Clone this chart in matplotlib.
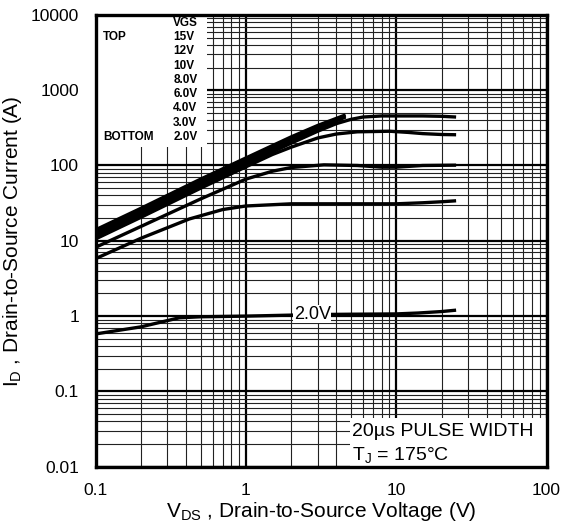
import matplotlib
matplotlib.use('Agg')
import matplotlib.pyplot as plt
from matplotlib.patches import Rectangle

plt.rcParams['font.family'] = ['Liberation Sans', 'DejaVu Sans']
plt.rcParams['mathtext.fontset'] = 'custom'
plt.rcParams['mathtext.rm'] = 'Liberation Sans'

# ── Curves (VDS [V], ID [A]) ──────────────────────────────────────
x_bundle = [0.1, 0.2, 0.5, 1, 2, 3, 4.6]
id_15v = [14, 27, 66, 126, 240, 340, 470]
id_12v = [13.2, 25.5, 62, 118, 226, 322, 455]
id_10v = [12.4, 24, 58, 111, 212, 305, 440]

x_8v = [0.1, 0.2, 0.5, 1, 2, 3, 4, 5, 6, 8, 10, 15, 20, 25]
id_8v = [11.5, 22.3, 54, 104, 198, 285, 360, 410, 440, 455, 455, 455, 450, 440]

x_6v = [0.1, 0.2, 0.5, 1, 1.5, 2, 3, 4, 5.5, 9, 12, 15, 20, 25]
id_6v = [10.6, 20.5, 50, 96, 140, 175, 232, 262, 280, 285, 275, 265, 258, 256]

x_4v = [0.1, 0.2, 0.5, 1, 1.5, 2, 3.3, 5.5, 8, 10, 15, 25]
id_4v = [8.2, 15.5, 36, 66, 84, 94, 102, 100, 95, 95, 100, 101]

x_3v = [0.1, 0.2, 0.42, 0.7, 1, 2, 5, 10, 15, 20, 25]
id_3v = [5.8, 10.8, 19.5, 26, 29, 31, 31, 31, 32, 33, 34]

x_2v = [0.1, 0.2, 0.36, 0.5, 1, 3, 5, 10, 14, 20, 25]
id_2v = [0.58, 0.72, 0.95, 0.98, 1.0, 1.05, 1.06, 1.07, 1.1, 1.15, 1.2]

vgs_labels = ['15V', '12V', '10V', '8.0V', '6.0V', '4.0V', '3.0V', '2.0V']
x_ticks = [0.1, 1, 10, 100]
x_ticklabels = ['0.1', '1', '10', '100']
y_ticks = [0.01, 0.1, 1, 10, 100, 1000, 10000]
y_ticklabels = ['0.01', '0.1', '1', '10', '100', '1000', '10000']

# ── Plot ──────────────────────────────────────────────────────────
fig = plt.figure(figsize=(5.76, 5.31), dpi=100)
ax = fig.add_axes([0.166, 0.121, 0.783, 0.851])
ax.set_xscale('log')
ax.set_yscale('log')
ax.set_xlim(0.1, 100)
ax.set_ylim(0.01, 10000)

ax.set_axisbelow(True)
ax.grid(True, which='major', color='black', lw=1.6, zorder=0.5)
ax.grid(True, which='minor', color='#222222', lw=0.8, zorder=0.5)

# white box behind the VGS list
ax.add_patch(Rectangle((0.1, 175), 0.45, 10000, facecolor='white',
                       edgecolor='none', zorder=1))

curves = [(x_bundle, id_15v), (x_bundle, id_12v), (x_bundle, id_10v),
          (x_8v, id_8v), (x_6v, id_6v), (x_4v, id_4v),
          (x_3v, id_3v), (x_2v, id_2v)]
for xs, ys in curves:
    ax.plot(xs, ys, color='black', lw=2.4, solid_capstyle='butt', zorder=2)

ax.set_xticks(x_ticks)
ax.set_xticklabels(x_ticklabels)
ax.set_yticks(y_ticks)
ax.set_yticklabels(y_ticklabels)
ax.tick_params(which='both', length=0)
ax.tick_params(axis='x', pad=12, labelsize=12.5)
ax.tick_params(axis='y', pad=12, labelsize=12.5)
for s in ax.spines.values():
    s.set_linewidth(2.4)
    s.set_zorder(4)

ax.set_xlabel(r'$\mathregular{V_{DS}}$ , Drain-to-Source Voltage (V)',
              fontsize=15, labelpad=1)
ax.set_ylabel(r'$\mathregular{I_D}$ , Drain-to-Source Current (A)',
              fontsize=15, labelpad=5)

# VGS list
fs_leg = 8.5
ax.text(0.172, 0.982, 'VGS', transform=ax.transAxes, fontsize=fs_leg,
        fontweight='bold', va='center', ha='left', zorder=3)
ax.text(0.016, 0.951, 'TOP', transform=ax.transAxes, fontsize=fs_leg,
        fontweight='bold', va='center', ha='left', zorder=3)
ax.text(0.016, 0.730, 'BOTTOM', transform=ax.transAxes, fontsize=fs_leg,
        fontweight='bold', va='center', ha='left', zorder=3)
for i, lab in enumerate(vgs_labels):
    ax.text(0.172, 0.951 - i * 0.0316, lab, transform=ax.transAxes,
            fontsize=fs_leg, fontweight='bold', va='center', ha='left', zorder=3)

ax.text(2.76, 1.06, '2.0V', fontsize=13, ha='center', va='center', zorder=3,
        bbox=dict(facecolor='white', edgecolor='none', pad=0.5))

# pulse-width note
ax.add_patch(Rectangle((4.93, 0.01), 100, 0.034, facecolor='white',
                       edgecolor='none', zorder=1))
ax.text(5.1, 0.0295, '20µs PULSE WIDTH', fontsize=14, ha='left',
        va='center', zorder=3)
ax.text(5.1, 0.0145, r'$\mathregular{T_J}$ = 175°C', fontsize=14,
        ha='left', va='center', zorder=3)

plt.savefig('out.png', dpi=100)
plt.close()
